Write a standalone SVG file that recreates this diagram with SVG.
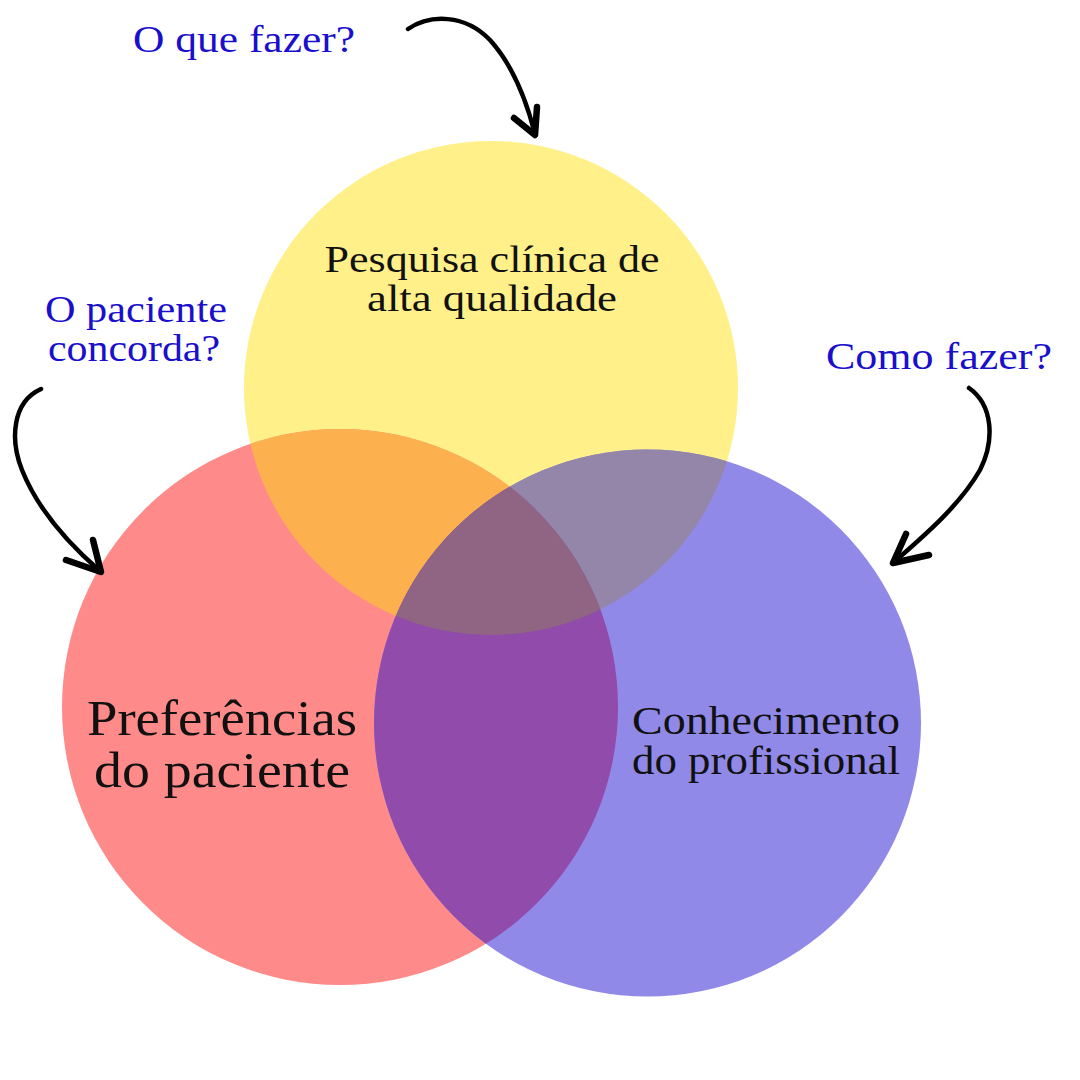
<svg xmlns="http://www.w3.org/2000/svg" width="1080" height="1080" viewBox="0 0 1080 1080">
<style>
.q{font-family:"Liberation Serif","Times New Roman",serif;fill:#1a0fcc;font-size:37px;text-anchor:middle}
.t{font-family:"Liberation Serif","Times New Roman",serif;fill:#111;text-anchor:middle}
.arr{fill:none;stroke:#000;stroke-width:4.5;stroke-linecap:round;stroke-linejoin:round}
.hd{fill:none;stroke:#000;stroke-width:6.5;stroke-linecap:round;stroke-linejoin:round}
</style>
<defs>
<clipPath id="cy"><circle cx="491" cy="388" r="247"/></clipPath>
<clipPath id="cr"><circle cx="340" cy="707" r="278"/></clipPath>
</defs>
<rect width="1080" height="1080" fill="#fff"/>
<g id="circles">
<g id="yellow"><circle cx="491" cy="388" r="247" fill="#FFF08A"/></g>
<g id="red"><circle cx="340" cy="707" r="278" fill="#FF8A8A"/></g>
<g id="blue"><circle cx="647.5" cy="723" r="273.5" fill="#9089E8"/></g>
<g id="yr"><circle cx="340" cy="707" r="278" fill="#FDB04E" clip-path="url(#cy)"/></g>
<g id="yb"><circle cx="647.5" cy="723" r="273.5" fill="#9386A9" clip-path="url(#cy)"/></g>
<g id="rb"><circle cx="647.5" cy="723" r="273.5" fill="#904BAB" clip-path="url(#cr)"/></g>
<g id="yrb" clip-path="url(#cy)"><circle cx="647.5" cy="723" r="273.5" fill="#906483" clip-path="url(#cr)"/></g>
</g>
<g id="labels">
<g id="n-pesquisa">
<text class="t" x="492" y="272" font-size="37" textLength="335" lengthAdjust="spacingAndGlyphs">Pesquisa clínica de</text>
<text class="t" x="492" y="311" font-size="37" textLength="250" lengthAdjust="spacingAndGlyphs">alta qualidade</text>
</g>
<g id="n-preferencias">
<text class="t" x="222" y="735" font-size="50" textLength="270" lengthAdjust="spacingAndGlyphs">Preferências</text>
<text class="t" x="222" y="787" font-size="50" textLength="256" lengthAdjust="spacingAndGlyphs">do paciente</text>
</g>
<g id="n-conhecimento">
<text class="t" x="766" y="734" font-size="39" textLength="268" lengthAdjust="spacingAndGlyphs">Conhecimento</text>
<text class="t" x="766" y="774" font-size="39" textLength="268" lengthAdjust="spacingAndGlyphs">do profissional</text>
</g>
<g id="q-oque">
<text class="q" x="244" y="52" textLength="222" lengthAdjust="spacingAndGlyphs">O que fazer?</text>
</g>
<g id="q-paciente">
<text class="q" x="136" y="322" textLength="182" lengthAdjust="spacingAndGlyphs">O paciente</text>
<text class="q" x="134" y="361" textLength="172" lengthAdjust="spacingAndGlyphs">concorda?</text>
</g>
<g id="q-como">
<text class="q" x="939" y="369" textLength="226" lengthAdjust="spacingAndGlyphs">Como fazer?</text>
</g>
</g>
<g id="connectors">
<path class="arr" d="M408,29 C430,14 465,14 490,40 C510,62 525,95 535,134"/>
<path class="hd" d="M514,118 L535,135 L537,107"/>
<path class="arr" d="M41,389 C12,402 10,440 22,470 C38,510 70,545 100,571"/>
<path class="hd" d="M66,560 L101,572 L93,540"/>
<path class="arr" d="M969,388 C993,405 995,440 980,470 C960,505 925,535 894,562"/>
<path class="hd" d="M906,534 L893,563 L929,555"/>
</g>
</svg>
